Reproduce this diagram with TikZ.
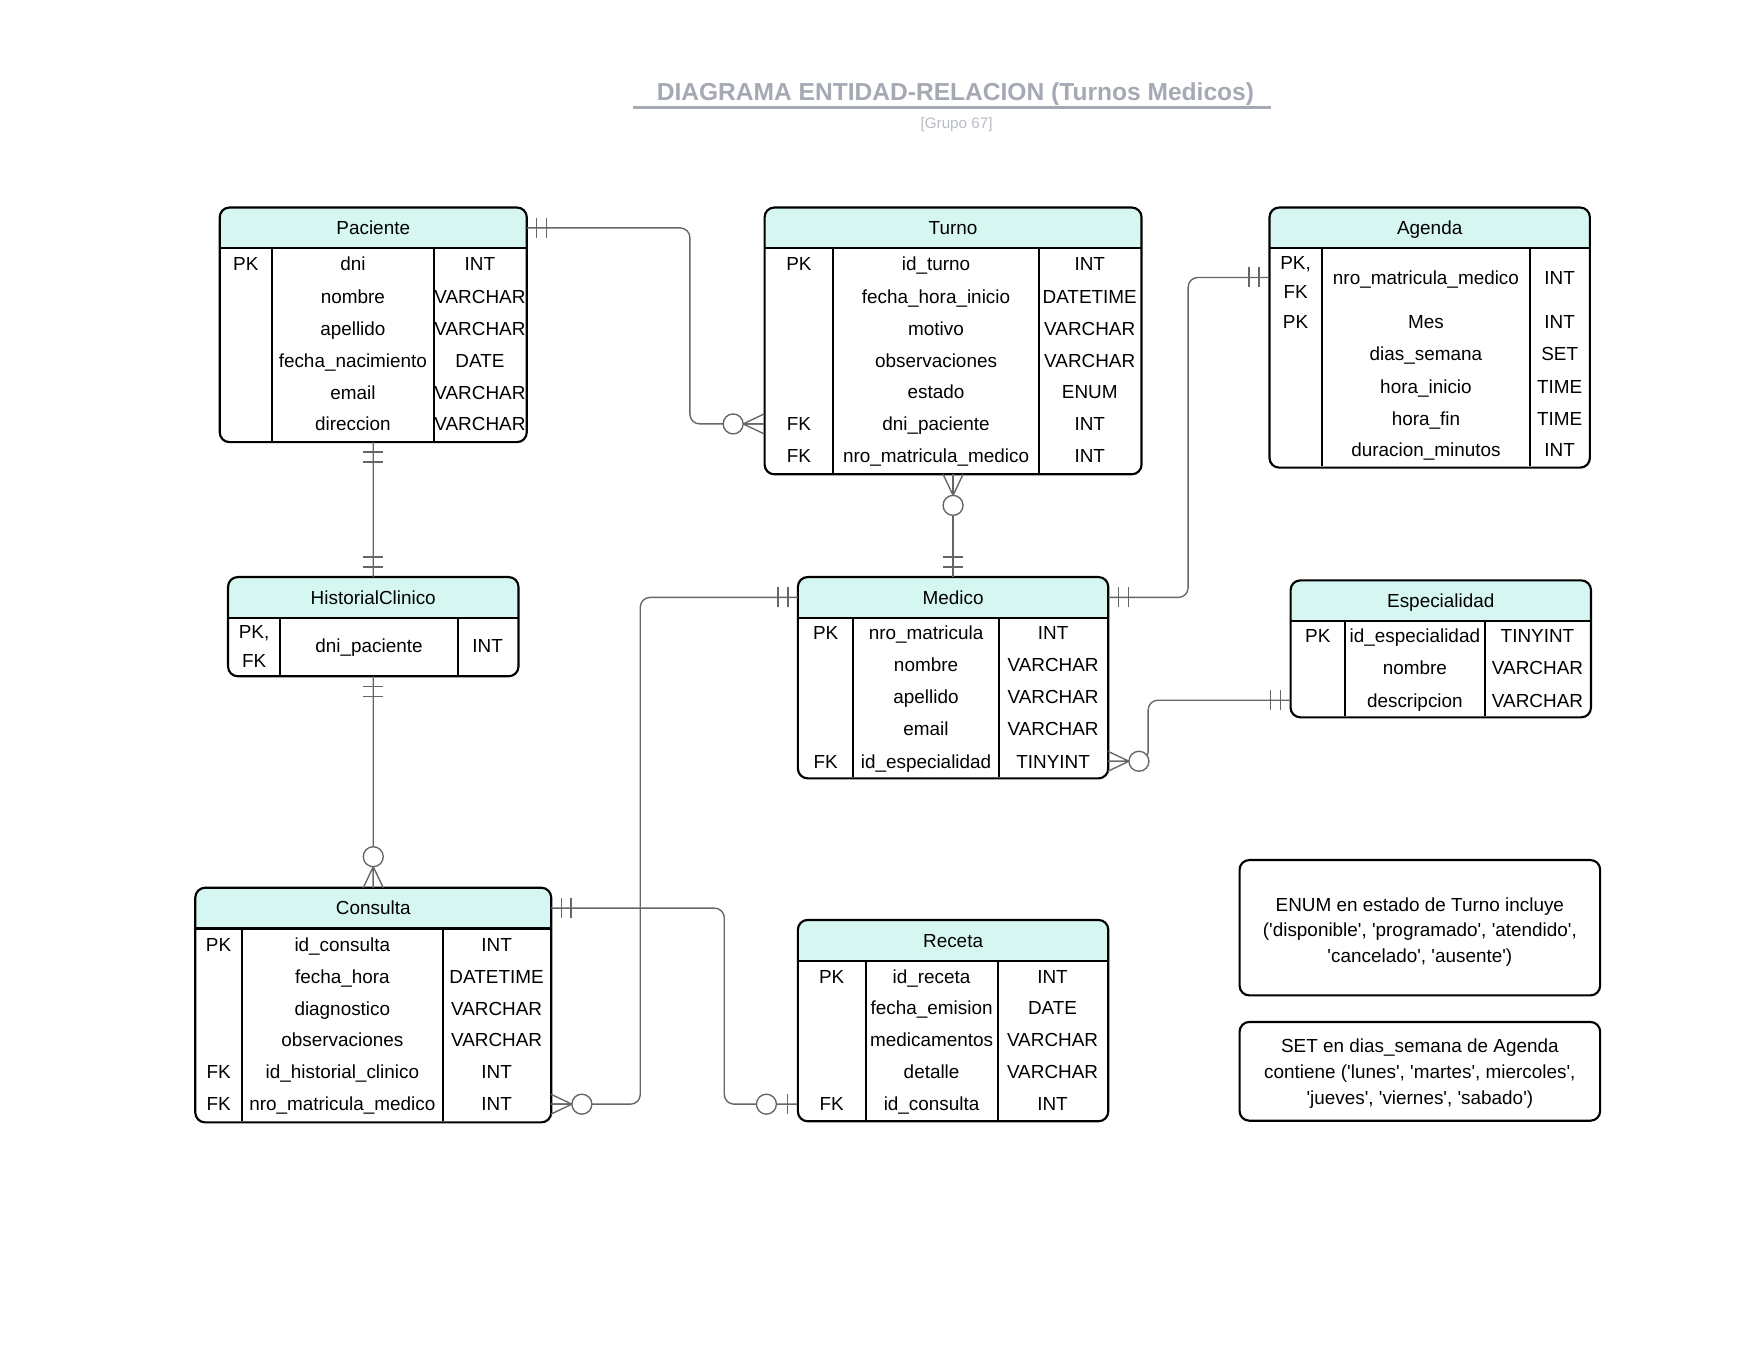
\documentclass[tikz,border=0pt]{standalone}
\usepackage{fontspec}
\setmainfont{Liberation Sans}
\usetikzlibrary{positioning}
\definecolor{verdeagua}{HTML}{D6F7F1}
\definecolor{grislinea}{HTML}{666666}
\definecolor{gristitulo}{HTML}{A4A9B3}
\definecolor{grisclaro}{HTML}{B9BDC5}
\newcommand{\ap}{\textquotesingle}
\newcommand{\puntal}{\rule[-3.5pt]{0pt}{14pt}}
\newcommand{\entidad}[8]{%
  \pgfmathsetmacro{\colA}{#3}%
  \pgfmathsetmacro{\colB}{#3+#7}%
  \pgfmathsetmacro{\colC}{#3+#8}%
  \pgfmathsetmacro{\colD}{#3+#5}%
  \begin{scope}
    \clip[rounded corners=5pt] (#3,#4) rectangle (\colD,#4+36+#6);
    \fill[verdeagua] (#3,#4) rectangle (\colD,#4+36);
  \end{scope}
  \node[cabecera, minimum width=#5*0.02cm, anchor=north west] (#1) at (#3,#4) {};
  \node[celda] (#1-t) at (#1.center) {\puntal#2};
  \node[cuerpo, minimum width=#5*0.02cm, minimum height=#6*0.02cm, anchor=north] (#1-b) at (#1.south) {};
  \draw[marco, rounded corners=5pt] (#1.north west) rectangle (#1-b.south east);
  \draw[marco] (#1.south west) -- (#1.south east);
  \draw[marco] (\colB,#4+36) -- (\colB,#4+36+#6) (\colC,#4+36) -- (\colC,#4+36+#6);
}
\newcommand{\fila}[5]{%
  \node[celda, minimum width={(\colB-\colA)*0.02cm}] (#1k) at ({(\colA+\colB)/2},#2) {\puntal#3\puntal};
  \node[celda, minimum width={(\colC-\colB)*0.02cm}] (#1n) at ({(\colB+\colC)/2},#2) {\puntal#4};
  \node[celda, minimum width={(\colD-\colC)*0.02cm}] (#1t) at ({(\colC+\colD)/2},#2) {\puntal#5};
}

\begin{document}
\begin{tikzpicture}[x=0.02cm, y=-0.02cm,
    texto/.style={font=\fontsize{9.7}{12}\selectfont},
    cabecera/.style={inner sep=0pt, minimum height=0.72cm},
    cuerpo/.style={inner sep=0pt},
    celda/.style={texto, inner sep=0pt, minimum height=0.58cm, align=center},
    marco/.style={draw=black, line width=1.1pt},
    conector/.style={draw=grislinea, line width=0.7pt},
    nota/.style={draw=black, line width=1.1pt, rounded corners=5pt, minimum width=6.5cm, align=center, font=\fontsize{9.7}{13.3}\selectfont},
    titulo/.style={text=gristitulo, font=\bfseries\fontsize{12.6}{15}\selectfont},
    subtitulo/.style={text=grisclaro, font=\fontsize{7.8}{9}\selectfont},
    uno/.pic={\draw[conector] (9,-9) -- (9,9) (18,-9) -- (18,9);},
    muchos/.pic={\draw[conector] (0,-9) -- (19,0) -- (0,9) (0,0) -- (19,0); \draw[conector, fill=white] (28,0) circle (9);},
    cerouno/.pic={\draw[conector] (9,-9) -- (9,9); \draw[conector, fill=white] (28,0) circle (9);}]
    \fill[white] (0,0) rectangle (1568,1225);
    \useasboundingbox (0,0) rectangle (1568,1225);

    \node[titulo] (tit) at (861,85) {DIAGRAMA ENTIDAD-RELACION (Turnos Medicos)};
    \draw[gristitulo, line width=1.2pt] (570,97) -- (1145,97);
    \node[subtitulo] (grupo) at (862,112) {[Grupo 67]};

    \entidad{pac}{Paciente}{198}{187}{276}{174}{47}{193}
    \fila{pac-1}{238}{PK}{dni}{INT}
    \fila{pac-2}{267}{}{nombre}{VARCHAR}
    \fila{pac-3}{296}{}{apellido}{VARCHAR}
    \fila{pac-4}{325}{}{fecha\_nacimiento}{DATE}
    \fila{pac-5}{354}{}{email}{VARCHAR}
    \fila{pac-6}{382}{}{direccion}{VARCHAR}

    \entidad{tur}{Turno}{689}{187}{339}{203}{62}{247}
    \fila{tur-1}{238}{PK}{id\_turno}{INT}
    \fila{tur-2}{267}{}{fecha\_hora\_inicio}{DATETIME}
    \fila{tur-3}{296}{}{motivo}{VARCHAR}
    \fila{tur-4}{325}{}{observaciones}{VARCHAR}
    \fila{tur-5}{353}{}{estado}{ENUM}
    \fila{tur-6}{382}{FK}{dni\_paciente}{INT}
    \fila{tur-7}{411}{FK}{nro\_matricula\_medico}{INT}

    \entidad{age}{Agenda}{1144}{187}{288}{197}{47}{235}
    \fila{age-1}{250}{PK,\\FK}{nro\_matricula\_medico}{INT}
    \fila{age-2}{290}{PK}{Mes}{INT}
    \fila{age-3}{319}{}{dias\_semana}{SET}
    \fila{age-4}{348}{}{hora\_inicio}{TIME}
    \fila{age-5}{377}{}{hora\_fin}{TIME}
    \fila{age-6}{405}{}{duracion\_minutos}{INT}

    \entidad{hc}{HistorialClinico}{205.5}{520}{261}{52}{47}{207}
    \fila{hc-1}{582}{PK,\\FK}{dni\_paciente}{INT}

    \entidad{med}{Medico}{719}{520}{279}{144}{50}{181}
    \fila{med-1}{570}{PK}{nro\_matricula}{INT}
    \fila{med-2}{599}{}{nombre}{VARCHAR}
    \fila{med-3}{628}{}{apellido}{VARCHAR}
    \fila{med-4}{657}{}{email}{VARCHAR}
    \fila{med-5}{686}{FK}{id\_especialidad}{TINYINT}

    \entidad{esp}{Especialidad}{1163}{523}{270}{86}{49}{175}
    \fila{esp-1}{573}{PK}{id\_especialidad}{TINYINT}
    \fila{esp-2}{602}{}{nombre}{VARCHAR}
    \fila{esp-3}{631}{}{descripcion}{VARCHAR}

    \entidad{con}{Consulta}{176}{800}{320}{174}{42}{223}
    \fila{con-1}{851}{PK}{id\_consulta}{INT}
    \fila{con-2}{880}{}{fecha\_hora}{DATETIME}
    \fila{con-3}{909}{}{diagnostico}{VARCHAR}
    \fila{con-4}{937}{}{observaciones}{VARCHAR}
    \fila{con-5}{966}{FK}{id\_historial\_clinico}{INT}
    \fila{con-6}{995}{FK}{nro\_matricula\_medico}{INT}

    \entidad{rec}{Receta}{719}{829}{279}{144}{61}{180}
    \fila{rec-1}{880}{PK}{id\_receta}{INT}
    \fila{rec-2}{908}{}{fecha\_emision}{DATE}
    \fila{rec-3}{937}{}{medicamentos}{VARCHAR}
    \fila{rec-4}{966}{}{detalle}{VARCHAR}
    \fila{rec-5}{995}{FK}{id\_consulta}{INT}

    \node[nota, minimum height=2.44cm] (enum) at (1279.5,836) {\rule{0pt}{11.5pt}ENUM en estado de Turno incluye\\(\ap disponible\ap, \ap programado\ap, \ap atendido\ap,\\\ap cancelado\ap, \ap ausente\ap)};
    \node[nota, minimum height=1.78cm, below=0.44cm of enum] (set) {\rule{0pt}{9pt}SET en dias\_semana de Agenda\\contiene (\ap lunes\ap, \ap martes\ap, miercoles\ap,\\\ap jueves\ap, \ap viernes\ap, \ap sabado\ap)};

    \draw[conector, rounded corners=5pt] (pac.east) -- ++(147,0) |- (tur-6k.west);
    \draw[conector] (pac-b.south) -- (hc.north);
    \draw[conector] (hc-b.south) -- (con.north);
    \draw[conector] (tur-b.south) -- (med.north);
    \draw[conector, rounded corners=5pt] (med.east) -- ++(72,0) |- (age-1k.west);
    \draw[conector, rounded corners=5pt] (med.west) -- ++(-142,0) |- (con-6t.east);
    \draw[conector, rounded corners=5pt] (con.east) -- ++(156,0) |- (rec-5k.west);
    \draw[conector, rounded corners=5pt] (esp-3k.west) -- ++(-128,0) |- (med-5t.east);

    \pic at (pac.east) {uno};
    \pic[rotate=180] at (tur-6k.west) {muchos};
    \pic[rotate=-90] at (pac-b.south) {uno};
    \pic[rotate=90] at (hc.north) {uno};
    \pic[rotate=-90] at (hc-b.south) {uno};
    \pic[rotate=90] at (con.north) {muchos};
    \pic[rotate=-90] at (tur-b.south) {muchos};
    \pic[rotate=90] at (med.north) {uno};
    \pic at (med.east) {uno};
    \pic[rotate=180] at (age-1k.west) {uno};
    \pic[rotate=180] at (med.west) {uno};
    \pic at (con-6t.east) {muchos};
    \pic at (con.east) {uno};
    \pic[rotate=180] at (rec-5k.west) {cerouno};
    \pic[rotate=180] at (esp-3k.west) {uno};
    \pic at (med-5t.east) {muchos};
\end{tikzpicture}
\end{document}
